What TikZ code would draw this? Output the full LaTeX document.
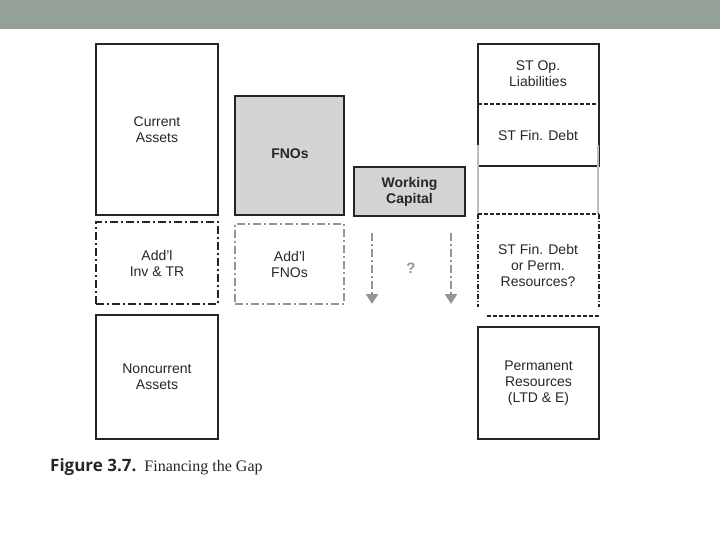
\documentclass[tikz,border=0pt]{standalone}
\usepackage{fontspec}
\setmainfont{Liberation Sans}
\newfontfamily\CaptionSans{Open Sans}
\newfontfamily\CaptionSerif{Liberation Serif}
\usetikzlibrary{arrows.meta}
\definecolor{BannerGray}{HTML}{93A196}
\definecolor{BoxFill}{HTML}{D4D4D4}
\definecolor{LineDark}{HTML}{252525}
\definecolor{LineMuted}{HTML}{949494}
\definecolor{GapLine}{HTML}{BDBDBD}
\definecolor{TextDark}{HTML}{262626}

\tikzset{
    block/.style={
        draw=LineDark,
        line width=1.3pt,
        anchor=north west,
        inner sep=0pt,
        outer sep=0pt,
        align=center,
        text=TextDark,
        font=\fontsize{14}{16}\selectfont
    },
    extrablock/.style={
        block,
        dash pattern=on 8pt off 3pt on 2pt off 3pt
    },
    tag/.style={
        align=center,
        inner sep=0pt,
        text=TextDark,
        font=\fontsize{14}{16}\selectfont
    },
    growarrow/.style={
        draw=LineMuted,
        line width=2.4pt,
        dash pattern=on 8pt off 3pt on 2pt off 3pt,
        -{Triangle[width=12pt,length=10pt]}
    }
}

\begin{document}
\begin{tikzpicture}[x=1pt,y=-1pt]
    \useasboundingbox (0,0) rectangle (720,540);
    \fill[BannerGray] (0,0) rectangle (720,29);

    \node[block, minimum width=122pt, minimum height=171pt] (current) at (96,44) {Current\\Assets};
    \node[extrablock, line width=2pt, minimum width=122pt, minimum height=82pt] (addinv) at (96,222) {Add'l\\Inv \& TR};
    \node[block, minimum width=122pt, minimum height=124pt] (noncurrent) at (96,315) {Noncurrent\\Assets};

    \node[block, fill=BoxFill, minimum width=109pt, minimum height=119pt] (fnos) at (235,96) {};
    \node[tag, font=\fontsize{14}{16}\selectfont\bfseries] (fnostext) at (290,154) {FNOs};
    \node[extrablock, draw=LineMuted, line width=1.6pt, minimum width=109pt, minimum height=80pt] (addfnos) at (235,224) {Add'l\\FNOs};

    \node[block, fill=BoxFill, minimum width=111pt, minimum height=49pt, font=\fontsize{14}{16}\selectfont\bfseries] (wc) at (354,167) {Working\\Capital};
    \coordinate (leftstart) at (372,233);
    \coordinate (leftend) at (372,304);
    \coordinate (rightstart) at (451,233);
    \coordinate (rightend) at (451,304);
    \draw[growarrow] (leftstart) -- (leftend);
    \draw[growarrow] (rightstart) -- (rightend);
    \node[tag, text=LineMuted, font=\fontsize{15}{16}\selectfont\bfseries] (question) at (411,268) {?};

    \node[block, minimum width=121pt, minimum height=122pt] (stbox) at (478,44) {};
    \node[tag] (stop) at (538,74) {ST Op.\\Liabilities};
    \node[tag] (stfin) at (538,135) {ST Fin. Debt};
    \draw[LineDark, line width=1.2pt, dash pattern=on 4pt off 2pt] (stbox.west |- 0,104) -- (stbox.east |- 0,104);
    \draw[GapLine, line width=1.6pt] (478,145) -- (478,214);
    \draw[GapLine, line width=1.6pt] (598,145) -- (598,214);
    \draw[LineDark, line width=1.2pt, dash pattern=on 4pt off 2pt] (478,214) -- (599,214);
    \draw[LineDark, line width=1.2pt, dash pattern=on 5pt off 2pt on 1pt off 2pt] (478,214) -- (478,307);
    \draw[LineDark, line width=1.2pt, dash pattern=on 5pt off 2pt on 1pt off 2pt] (599,214) -- (599,307);
    \node[tag] (choice) at (538,265) {ST Fin. Debt\\or Perm.\\Resources?};
    \draw[LineDark, line width=1.2pt, dash pattern=on 4pt off 2pt] (487,316) -- (599,316);
    \node[block, minimum width=121pt, minimum height=112pt] (perm) at (478,327) {Permanent\\Resources\\(LTD \& E)};

    \node[anchor=west, inner sep=0pt, text=TextDark] (caption) at (50,467) {{\CaptionSans\bfseries\fontsize{17}{18}\selectfont Figure 3.7.}\hspace{8pt}{\CaptionSerif\fontsize{16}{18}\selectfont Financing the Gap}};
\end{tikzpicture}
\end{document}
